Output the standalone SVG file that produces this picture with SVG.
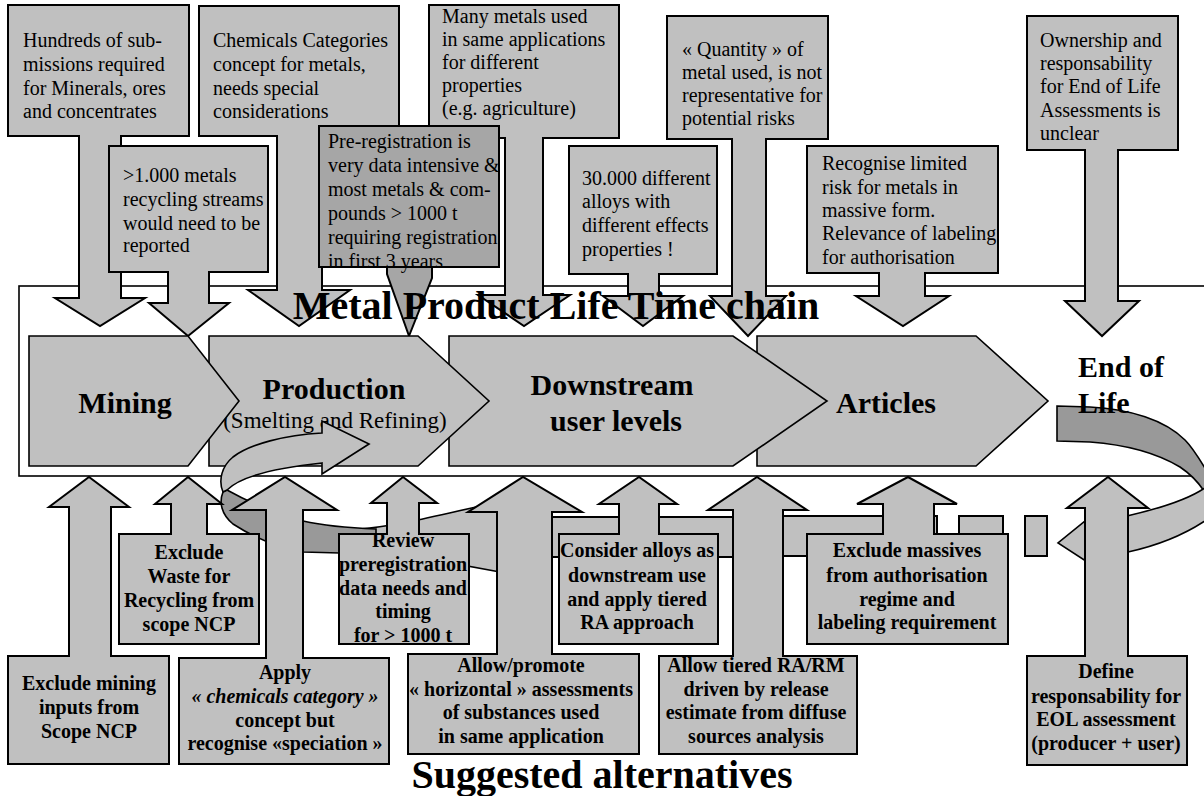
<svg xmlns="http://www.w3.org/2000/svg" width="1204" height="796" viewBox="0 0 1204 796">
<style>
.t{font-family:"Liberation Serif","Times New Roman",serif;font-size:20px;fill:#000}
.b{font-weight:bold;text-anchor:middle}
.i{font-style:italic}
.lab{font-family:"Liberation Serif","Times New Roman",serif;font-size:30px;font-weight:bold;fill:#000}
.ttl{font-family:"Liberation Serif","Times New Roman",serif;font-size:40px;font-weight:bold;fill:#000;text-anchor:middle}
.box{fill:#c0c0c0;stroke:#000;stroke-width:2;stroke-linejoin:miter}
.dk{fill:#a6a6a6}
.chev{fill:#c0c0c0;stroke:#000;stroke-width:1.6}
.rib{fill:#c0c0c0;stroke:#000;stroke-width:1.6}
.ribd{fill:#999999;stroke:#000;stroke-width:1.6}
</style>
<rect id="frame" x="19" y="286" width="1200" height="190" fill="#fff" stroke="#000" stroke-width="1.6"/>

<g id="top-callouts">
<g id="c-hundreds"><polygon class="box" points="8,5 189,5 189,136 121,136 121,298 145,298 100,326 55,298 79,298 79,136 8,136"/>
<text class="t" x="23"><tspan x="23" y="47">Hundreds of sub-</tspan><tspan x="23" y="71">missions required</tspan><tspan x="23" y="95">for Minerals, ores</tspan><tspan x="23" y="118">and concentrates</tspan></text></g>
<g id="c-chemicals"><polygon class="box" points="199,6 399,6 399,136 322,136 322,290 350,290 299,326 248,290 277,290 277,136 199,136"/>
<text class="t"><tspan x="213" y="47">Chemicals Categories</tspan><tspan x="213" y="71">concept for metals,</tspan><tspan x="213" y="95">needs special</tspan><tspan x="213" y="118">considerations</tspan></text></g>
<g id="c-many"><polygon class="box" points="429,5 619,5 619,138 543,138 543,295 570,295 524,326 478,295 505,295 505,138 429,138"/>
<text class="t"><tspan x="442" y="23">Many metals used</tspan><tspan x="442" y="46">in same applications</tspan><tspan x="442" y="69">for different</tspan><tspan x="442" y="92">properties</tspan><tspan x="442" y="115">(e.g. agriculture)</tspan></text></g>
<g id="c-quantity"><polygon class="box" points="667,16 828,16 828,139 766,139 766,296 786,296 748,336 710,296 732,296 732,139 667,139"/>
<text class="t"><tspan x="682" y="56">« Quantity » of</tspan><tspan x="682" y="79">metal used, is not</tspan><tspan x="682" y="102">representative for</tspan><tspan x="682" y="125">potential risks</tspan></text></g>
<g id="c-ownership"><polygon class="box" points="1027,16 1178,16 1178,150 1118,150 1118,301 1139,301 1102,336 1065,301 1085,301 1085,150 1027,150"/>
<text class="t"><tspan x="1040" y="47">Ownership and</tspan><tspan x="1040" y="70">responsability</tspan><tspan x="1040" y="93">for End of Life</tspan><tspan x="1040" y="117">Assessments is</tspan><tspan x="1040" y="140">unclear</tspan></text></g>
<g id="c-recycling"><polygon class="box" points="109,146 268,146 268,272 209,272 209,303 229,303 188,336 149,303 168,303 168,272 109,272"/>
<text class="t"><tspan x="123" y="182">&gt;1.000 metals</tspan><tspan x="123" y="206">recycling streams</tspan><tspan x="123" y="230">would need to be</tspan><tspan x="123" y="252">reported</tspan></text></g>
<g id="c-prereg"><polygon class="box dk" points="319,126 499,126 499,267 432,267 432,278 409,336 387,274 387,267 319,267"/>
<text class="t"><tspan x="328" y="148">Pre-registration is</tspan><tspan x="328" y="172">very data intensive &amp;</tspan><tspan x="328" y="196">most metals &amp; com-</tspan><tspan x="328" y="220">pounds &gt; 1000 t</tspan><tspan x="328" y="244">requiring registration</tspan><tspan x="328" y="268">in first 3 years</tspan></text>
<line x1="319" y1="267" x2="499" y2="267" stroke="#000" stroke-width="2"/></g>
<g id="c-alloys"><polygon class="box" points="569,146 717,146 717,274 659,274 659,296 683,296 643,326 603,296 628,296 628,274 569,274"/>
<text class="t"><tspan x="582" y="185">30.000 different</tspan><tspan x="582" y="208">alloys with</tspan><tspan x="582" y="232">different effects</tspan><tspan x="582" y="256">properties !</tspan></text></g>
<g id="c-recognise"><polygon class="box" points="807,146 998,146 998,273 925,273 925,296 949,296 903,326 856,296 879,296 879,273 807,273"/>
<text class="t"><tspan x="822" y="170">Recognise limited</tspan><tspan x="822" y="194">risk for metals in</tspan><tspan x="822" y="217">massive form.</tspan><tspan x="822" y="240">Relevance of labeling</tspan><tspan x="822" y="264">for authorisation</tspan></text></g>
</g>

<g id="chain">
<g id="n-articles"><polygon class="chev" points="757,336 976,336 1048,401 976,466 757,466"/><text class="lab" x="886" y="413" text-anchor="middle">Articles</text></g>
<g id="n-downstream"><polygon class="chev" points="449,336 733,336 827,401 733,466 449,466"/><text class="lab" text-anchor="middle"><tspan x="612" y="395">Downstream</tspan><tspan x="616" y="431">user levels</tspan></text></g>
<g id="n-production"><polygon class="chev" points="209,336 418,336 489,401 418,466 209,466"/><text class="lab" x="334" y="399" text-anchor="middle">Production</text><text class="t" x="335" y="428" text-anchor="middle" style="font-size:23px">(Smelting and Refining)</text></g>
<g id="n-mining"><polygon class="chev" points="29,336 188,336 239,401 188,466 29,466"/><text class="lab" x="125" y="413" text-anchor="middle">Mining</text></g>
</g>

<text class="ttl" x="556" y="319">Metal Product Life Time chain</text>

<g id="connectors">
<rect class="box" x="552" y="517" width="181" height="40" stroke-width="1.8"/>
<rect class="box" x="783" y="516" width="154" height="40" stroke-width="1.8"/>
<rect class="box" x="959" y="516" width="44" height="22" stroke-width="1.8"/>
<rect class="box" x="1025" y="516" width="22" height="40" stroke-width="1.8"/>
<path class="rib" d="M360,529 C400,526 445,513 500,502 L500,572 C465,565 420,557 360,554 Z"/>
<path class="ribd" d="M223,492 C219,502 221,514 233,524 C250,535 275,547 303,552 L376,554 L376,529 C350,528 325,526 303,521 C270,512 245,500 227,490 Z"/>
<path class="ribd" d="M1057,406 L1090,407 C1130,409 1165,420 1185,440 C1195,450 1203,465 1212,480 L1212,505 C1205,490 1195,477 1180,467 C1160,455 1130,445 1090,442 L1057,441 Z"/>
<path class="rib" d="M1212,482 C1200,494 1170,506 1127,516 L1095,519 L1095,513 L1058,543 L1095,567 L1095,556 L1128,552 C1160,545 1190,532 1212,516 Z"/>
</g>

<g id="n-eol"><text class="lab"><tspan x="1078" y="377">End of</tspan><tspan x="1078" y="413">Life</tspan></text></g>

<g id="bottom-callouts">
<g id="a-mining"><polygon class="box" points="8,656 69,656 69,507 49,507 89,477 129,507 111,507 111,656 169,656 169,764 8,764"/>
<text class="t b"><tspan x="89" y="690">Exclude mining</tspan><tspan x="89" y="714">inputs from</tspan><tspan x="89" y="738">Scope NCP</tspan></text></g>
<g id="a-waste"><polygon class="box" points="119,534 171,534 171,504 155,504 188,477 222,504 207,504 207,534 259,534 259,644 119,644"/>
<text class="t b"><tspan x="189" y="559">Exclude</tspan><tspan x="189" y="583">Waste for</tspan><tspan x="189" y="607">Recycling from</tspan><tspan x="189" y="631">scope NCP</tspan></text></g>
<g id="a-apply"><polygon class="box" points="179,658 266,658 266,510 232,510 285,477 337,510 303,510 303,658 389,658 389,764 179,764"/>
<text class="t b"><tspan x="285" y="679">Apply</tspan><tspan x="285" y="703" class="i">« chemicals category »</tspan><tspan x="285" y="727">concept but</tspan><tspan x="285" y="750">recognise «speciation »</tspan></text></g>
<g id="a-review"><polygon class="box" points="339,534 387,534 387,503 371,503 403,477 437,503 419,503 419,534 469,534 469,644 339,644"/>
<text class="t b"><tspan x="403" y="547">Review</tspan><tspan x="403" y="571">preregistration</tspan><tspan x="403" y="595">data needs and</tspan><tspan x="403" y="618">timing</tspan><tspan x="403" y="642">for &gt; 1000 t</tspan></text></g>
<g id="a-horizontal"><polygon class="box" points="408,654 497,654 497,512 468,512 523,477 582,512 552,512 552,654 639,654 639,754 408,754"/>
<text class="t b"><tspan x="521" y="672">Allow/promote</tspan><tspan x="521" y="696">« horizontal » assessments</tspan><tspan x="521" y="719">of substances used</tspan><tspan x="521" y="743">in same application</tspan></text></g>
<g id="a-consider"><polygon class="box" points="559,534 619,534 619,504 599,504 639,477 677,504 659,504 659,534 718,534 718,644 559,644"/>
<text class="t b"><tspan x="637" y="557">Consider alloys as</tspan><tspan x="637" y="582">downstream use</tspan><tspan x="637" y="606">and apply tiered</tspan><tspan x="637" y="629">RA approach</tspan></text></g>
<g id="a-tiered"><polygon class="box" points="659,656 733,656 733,510 708,510 757,477 807,510 783,510 783,656 857,656 857,754 659,754"/>
<text class="t b"><tspan x="756" y="672">Allow tiered RA/RM</tspan><tspan x="756" y="696">driven by release</tspan><tspan x="756" y="719">estimate from diffuse</tspan><tspan x="756" y="743">sources analysis</tspan></text></g>
<g id="a-massives"><polygon class="box" points="807,534 883,534 883,504 857,504 908,477 957,504 934,504 934,534 1008,534 1008,644 807,644"/>
<text class="t b"><tspan x="907" y="557">Exclude massives</tspan><tspan x="907" y="582">from authorisation</tspan><tspan x="907" y="606">regime and</tspan><tspan x="907" y="629">labeling requirement</tspan></text></g>
<g id="a-define"><polygon class="box" points="1027,656 1085,656 1085,508 1067,508 1108,477 1148,508 1128,508 1128,656 1187,656 1187,765 1027,765"/>
<text class="t b"><tspan x="1106" y="678">Define</tspan><tspan x="1106" y="703">responsability for</tspan><tspan x="1106" y="726">EOL assessment</tspan><tspan x="1106" y="750">(producer + user)</tspan></text></g>
</g>

<g id="recycle-front">
<path class="rib" d="M369,444 L322,421 L322,433 C285,435 250,444 233,457 C222,466 218,480 223,492 L227,490 C235,482 255,470 322,463 L322,474 Z"/>
</g>

<text class="ttl" x="602" y="788">Suggested alternatives</text>
</svg>
